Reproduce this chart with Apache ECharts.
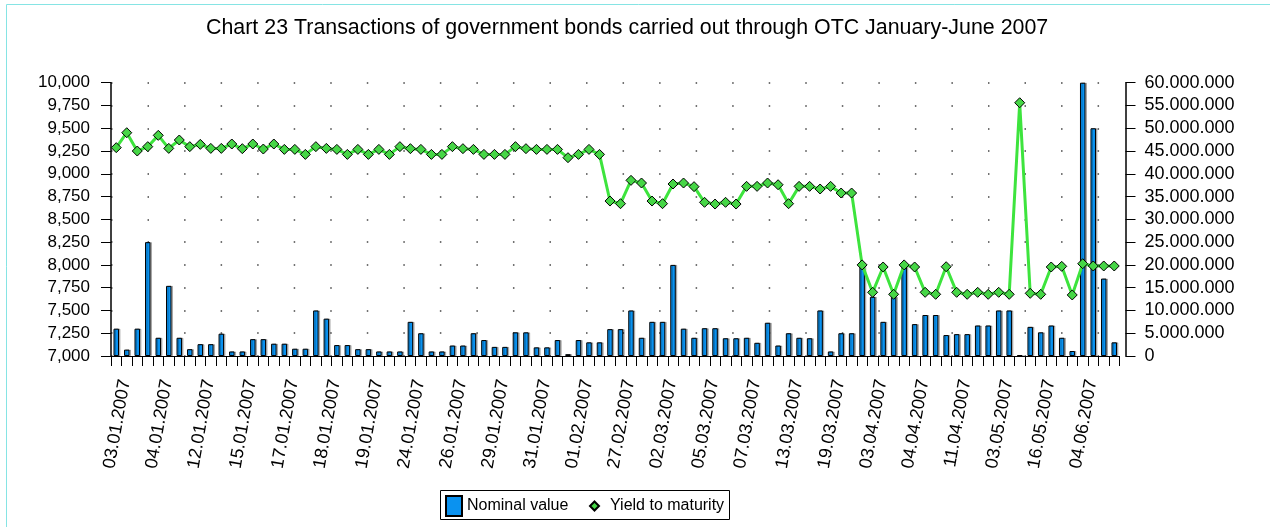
<!DOCTYPE html>
<html>
<head>
<meta charset="utf-8">
<script src="https://cdn.jsdelivr.net/npm/echarts@6/dist/echarts.min.js"></script>
<style>
html,body{margin:0;padding:0;background:#fff;}
#c{width:1270px;height:527px;}
</style>
</head>
<body>
<div id="c"></div>
<script>
// Visible tick labels (every 4th transaction)
const tickDates = ['03.01.2007','04.01.2007','12.01.2007','15.01.2007','17.01.2007','18.01.2007',
  '19.01.2007','24.01.2007','26.01.2007','29.01.2007','31.01.2007','01.02.2007','27.02.2007',
  '02.03.2007','05.03.2007','07.03.2007','13.03.2007','19.03.2007','03.04.2007','04.04.2007',
  '11.04.2007','03.05.2007','16.05.2007','04.06.2007'];
// One category per transaction (dates between labels unknown: grouped under preceding label)
const categories = tickDates.flatMap(d => [d, d, d, d]);

// Nominal value (right axis)
const nominalValue = [
  6000000,1400000,6000000,25000000,4000000,15400000,4000000,1500000,2600000,2600000,
  4900000,1000000,1000000,3700000,3700000,2700000,2700000,1600000,1600000,10000000,
  8200000,2400000,2400000,1500000,1500000,1000000,1000000,1000000,7500000,5000000,
  1000000,1000000,2300000,2300000,5000000,3500000,2000000,2000000,5200000,5200000,
  1900000,1900000,3500000,400000,3500000,3000000,3000000,5900000,5900000,10000000,
  4000000,7500000,7500000,20000000,6000000,4000000,6100000,6100000,3900000,3900000,
  4000000,2900000,7300000,2300000,5000000,4000000,3900000,10000000,1000000,5000000,
  5000000,20000000,13000000,7500000,13000000,20000000,7000000,9000000,9000000,4600000,
  4800000,4800000,6700000,6700000,10000000,10000000,200000,6400000,5200000,6700000,
  4000000,1100000,60000000,50000000,17000000,3000000
];

// Yield to maturity (left axis)
const yieldToMaturity = [
  9287,9451,9250,9298,9422,9279,9371,9298,9323,9279,
  9279,9327,9276,9327,9272,9327,9268,9268,9213,9298,
  9279,9268,9213,9268,9213,9268,9213,9298,9276,9268,
  9213,9213,9298,9276,9268,9213,9213,9213,9298,9276,
  9268,9268,9268,9177,9213,9268,9213,8701,8672,8928,
  8899,8701,8672,8888,8899,8859,8687,8668,8687,8668,
  8862,8862,8899,8880,8672,8862,8862,8833,8862,8789,
  8789,8000,7699,7977,7677,8000,7977,7699,7677,7980,
  7699,7677,7699,7677,7699,7677,9780,7688,7677,7977,
  7984,7670,8013,7988,7988,7988
];

const FONT = '"Liberation Sans", Arial, sans-serif';
const fmtComma = v => String(v).replace(/\B(?=(\d{3})+(?!\d))/g, ',');
const fmtDot = v => String(v).replace(/\B(?=(\d{3})+(?!\d))/g, '.');

const chart = echarts.init(document.getElementById('c'));
chart.setOption({
  animation: false,
  backgroundColor: '#fff',
  textStyle: { fontFamily: FONT },
  title: {
    text: 'Chart 23 Transactions of government bonds carried out through OTC January-June 2007',
    left: 201,
    top: 13,
    textStyle: { fontSize: 21.4, fontWeight: 'normal', color: '#000', fontFamily: FONT }
  },
  graphic: [
    { type: 'rect', z: -10, shape: { x: 6.5, y: 4.5, width: 1400, height: 700 },
      style: { fill: 'none', stroke: '#86e4e4', lineWidth: 1 } },
    { type: 'rect', z: 0, shape: { x: 440.5, y: 490.5, width: 289, height: 29 },
      style: { fill: '#fff', stroke: '#000', lineWidth: 1 } }
  ],
  legend: [
    {
      data: [{ name: 'Nominal value', icon: 'rect' }],
      left: 440, top: 490, padding: 5,
      itemWidth: 16, itemHeight: 20,
      textStyle: { fontSize: 16, color: '#000', fontFamily: FONT }
    },
    {
      data: [{ name: 'Yield to maturity', icon: 'diamond' }],
      left: 584, top: 493, padding: 5,
      itemWidth: 9, itemHeight: 9,
      textStyle: { fontSize: 16, color: '#000', fontFamily: FONT, padding: [0, 0, 0, 6] }
    }
  ],
  grid: { left: 111, top: 82.7, width: 1008.5, height: 273.3, containLabel: false },
  xAxis: {
    type: 'category',
    data: categories,
    boundaryGap: true,
    axisLine: { lineStyle: { color: '#000', width: 1 } },
    axisTick: { show: true, interval: 0, length: 10, lineStyle: { color: '#000' } },
    axisLabel: {
      interval: 3, rotate: 80, fontSize: 18, color: '#000', margin: 22,
      verticalAlign: 'top', fontFamily: FONT
    }
  },
  yAxis: [
    {
      type: 'value', position: 'left', min: 7000, max: 10000, interval: 250,
      axisLine: { show: true, lineStyle: { color: '#000', width: 1.5 } },
      axisTick: { show: true, length: 10, lineStyle: { color: '#000' } },
      axisLabel: { formatter: fmtComma, fontSize: 17, color: '#000', margin: 21, fontFamily: FONT },
      splitLine: { show: true, lineStyle: { color: '#444', width: 1.5, type: [1.5, 35.04], dashOffset: 0 } }
    },
    {
      type: 'value', position: 'right', min: 0, max: 60000000, interval: 5000000, offset: 6,
      axisLine: { show: true, lineStyle: { color: '#000', width: 1.5 } },
      axisTick: { show: true, length: 10, lineStyle: { color: '#000' } },
      axisLabel: { formatter: fmtDot, fontSize: 18, color: '#000', margin: 19, fontFamily: FONT },
      splitLine: { show: false }
    }
  ],
  series: [
    {
      name: 'Nominal value',
      type: 'bar',
      yAxisIndex: 1,
      data: nominalValue,
      barWidth: 5.5,
      itemStyle: {
        color: '#0a92f0', borderColor: '#000', borderWidth: 1,
        shadowColor: 'rgba(0,0,0,0.25)', shadowOffsetX: 1.5, shadowOffsetY: 0, shadowBlur: 0
      }
    },
    {
      name: 'Yield to maturity',
      type: 'line',
      yAxisIndex: 0,
      data: yieldToMaturity,
      symbol: 'diamond',
      symbolSize: 10,
      showSymbol: true,
      showAllSymbol: true,
      lineStyle: { color: '#3de43d', width: 3 },
      itemStyle: { color: '#46d646', borderColor: '#000', borderWidth: 1 },
      z: 3
    }
  ]
});
</script>
</body>
</html>
